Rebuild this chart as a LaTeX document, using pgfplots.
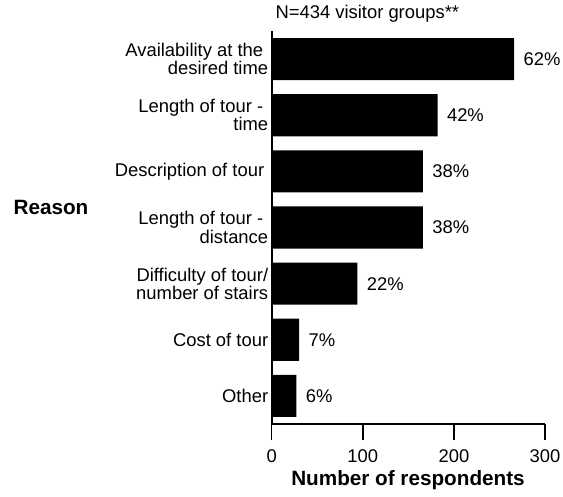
\documentclass[border=0pt]{standalone}
\usepackage{pgfplots}
\pgfplotsset{compat=1.18}
\usepackage{fontspec}
\setmainfont{Liberation Sans}
\begin{document}
\begin{tikzpicture}[font=\fontsize{18.4}{18.4}\selectfont]
\useasboundingbox (0pt,0pt) rectangle (563pt,496pt);
\begin{axis}[
  at={(271.7pt,72pt)}, anchor=south west,
  scale only axis, width=273.3pt, height=393pt,
  xbar, bar width=0.75,
  xmin=0, xmax=300, ymin=-0.5, ymax=6.5,
  axis x line*=bottom, axis y line*=left,
  axis line style={line width=1.6pt},
  major tick length=0pt,
  tick style={draw=none},
  xtick={0,100,200,300},
  xticklabel={\rule{1.6pt}{16pt}\\[4pt]\pgfmathprintnumber{\tick}},
  xticklabel style={align=center, inner sep=0pt, anchor=north},
  ytick={0,1,2,3,4,5,6},
  yticklabels={Other, Cost of tour, {Difficulty of tour/\\number of stairs}, {Length of tour -\hspace*{5pt}\\distance}, {Description of tour\hspace*{4pt}}, {Length of tour -\hspace*{5pt}\\time}, {Availability at the\hspace*{5pt}\\desired time}},
  yticklabel style={align=right},
  /pgf/number format/assume math mode=true,
  nodes near coords,
  point meta=explicit symbolic,
  nodes near coords style={anchor=west, xshift=6pt, black},
]
\addplot[fill=black, draw=none] coordinates {
  (27,0) [6\%]
  (30,1) [7\%]
  (94,2) [22\%]
  (166,3) [38\%]
  (166,4) [38\%]
  (182,5) [42\%]
  (266,6) [62\%]
};
\end{axis}
\node[anchor=base west] at (272pt,477pt) {N=434 visitor groups**};
\node at (51pt,288.5pt) {\fontsize{20.7}{20.7}\selectfont\bfseries Reason};
\node[anchor=base] at (408pt,11pt) {\fontsize{20.7}{20.7}\selectfont\bfseries Number of respondents};
\end{tikzpicture}
\end{document}
